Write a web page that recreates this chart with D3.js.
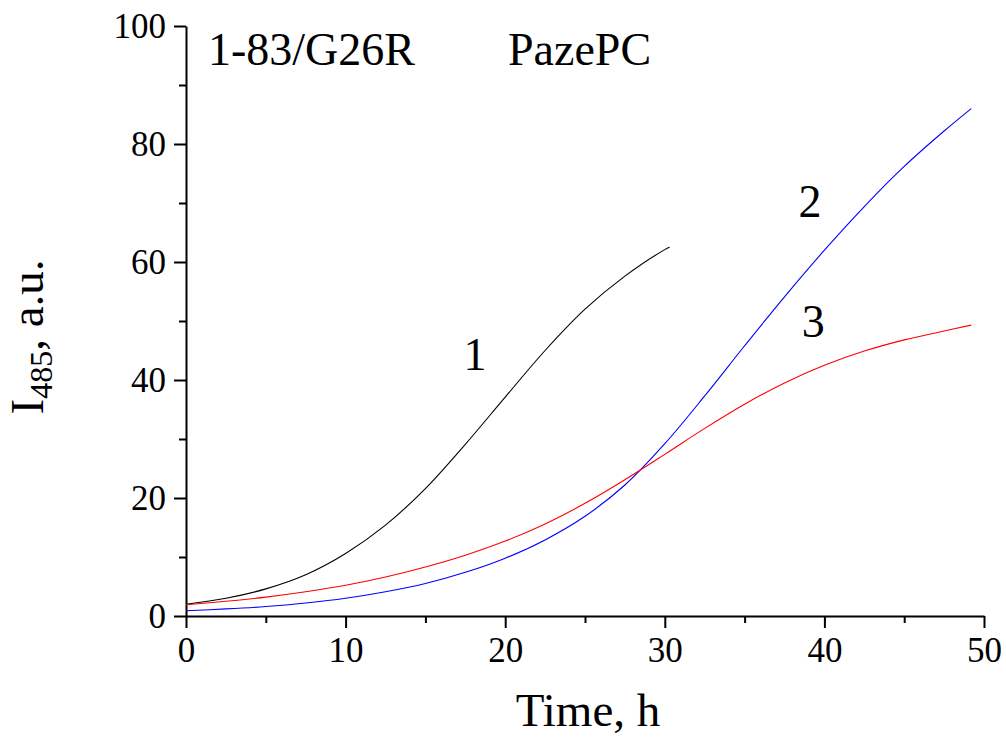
<!DOCTYPE html>
<html>
<head>
<meta charset="utf-8">
<script src="https://cdn.jsdelivr.net/npm/d3@7"></script>
<style>
  html, body { margin: 0; padding: 0; background: #fff; }
  svg { display: block; }
  text { font-family: "Liberation Serif", "Times New Roman", serif; fill: #000; }
</style>
</head>
<body>
<svg id="chart" width="1006" height="742"></svg>
<script>
// ---- data ----
const xTicks = [0, 10, 20, 30, 40, 50];
const xMinorTicks = [5, 15, 25, 35, 45];
const yTicks = [0, 20, 40, 60, 80, 100];
const yMinorTicks = [10, 30, 50, 70, 90];

const t1 = [0, 2.5, 5, 7.5, 10, 12.5, 15, 17.5, 20, 22.5, 25, 27.5, 30, 30.3];
const y1 = [2.0, 3.0, 4.6, 7.0, 10.6, 15.4, 21.6, 29.1, 37.1, 45.0, 52.0, 57.6, 62.1, 62.5];

const t2 = [0, 2.5, 5, 7.5, 10, 12.5, 15, 17.5, 20, 22.5, 25, 27.5, 30, 32.5, 35, 37.5, 40, 42.5, 45, 47.5, 49.2];
const y2 = [0.9, 1.2, 1.6, 2.2, 3.0, 4.1, 5.5, 7.4, 9.8, 12.9, 16.9, 22.2, 29.2, 37.3, 45.8, 54.1, 62.0, 69.4, 76.2, 82.2, 86.0];

const t3 = [0, 2.5, 5, 7.5, 10, 12.5, 15, 17.5, 20, 22.5, 25, 27.5, 30, 32.5, 35, 37.5, 40, 42.5, 45, 47.5, 49.2];
const y3 = [1.9, 2.5, 3.2, 4.1, 5.2, 6.6, 8.3, 10.3, 12.7, 15.6, 19.1, 23.1, 27.4, 31.8, 35.9, 39.5, 42.5, 44.9, 46.8, 48.3, 49.3];

const seriesNames = ["1", "2", "3"];
const seriesColors = ["#000000", "#0000ff", "#ff0000"];
const labelPos = [[18.1, 41.7], [39.1, 67.6], [39.3, 47.3]];  // data coords of the curve labels
const titleLeft = "1-83/G26R";
const titleRight = "PazePC";
const xTitle = "Time, h";

// ---- layout ----
const svg = d3.select("#chart");
const x = d3.scaleLinear().domain([0, 50]).range([186, 984]);
const y = d3.scaleLinear().domain([0, 100]).range([616, 26]);

function styleAxis(g) {
  g.selectAll("path.domain").attr("stroke", "#000").attr("stroke-width", 2);
  g.selectAll(".tick line").attr("stroke", "#000").attr("stroke-width", 2);
  g.selectAll(".tick text").style("font-family", '"Liberation Serif", serif').style("font-size", "35px").attr("fill", "#000");
}

const gx = svg.append("g").attr("transform", `translate(0,${y(0)})`)
  .call(d3.axisBottom(x).tickValues(xTicks).tickSize(12).tickSizeOuter(0).tickPadding(9).tickFormat(d3.format("d")));
styleAxis(gx);
const gxm = svg.append("g").attr("transform", `translate(0,${y(0)})`)
  .call(d3.axisBottom(x).tickValues(xMinorTicks).tickSize(7).tickFormat(""));
gxm.select("path.domain").remove();
gxm.selectAll(".tick line").attr("stroke", "#000").attr("stroke-width", 2);

const gy = svg.append("g").attr("transform", `translate(${x(0)},0)`)
  .call(d3.axisLeft(y).tickValues(yTicks).tickSize(12).tickSizeOuter(0).tickPadding(8).tickFormat(d3.format("d")));
styleAxis(gy);
const gym = svg.append("g").attr("transform", `translate(${x(0)},0)`)
  .call(d3.axisLeft(y).tickValues(yMinorTicks).tickSize(7).tickFormat(""));
gym.select("path.domain").remove();
gym.selectAll(".tick line").attr("stroke", "#000").attr("stroke-width", 2);

// curves
const line = d3.line().x(d => x(d[0])).y(d => y(d[1])).curve(d3.curveCatmullRom.alpha(0.5));
const series = [d3.zip(t1, y1), d3.zip(t2, y2), d3.zip(t3, y3)];
series.forEach((s, i) => {
  svg.append("path").datum(s)
    .attr("fill", "none")
    .attr("stroke", seriesColors[i])
    .attr("stroke-width", 1.1)
    .attr("d", line);
});

// curve labels
seriesNames.forEach((n, i) => {
  svg.append("text")
    .attr("x", x(labelPos[i][0]))
    .attr("y", y(labelPos[i][1]))
    .attr("text-anchor", "middle")
    .style("font-size", "46px")
    .text(n);
});

// in-plot titles
svg.append("text").attr("x", 208).attr("y", 65).style("font-size", "46px").text(titleLeft);
svg.append("text").attr("x", 508).attr("y", 65).style("font-size", "46px").text(titleRight);

// axis titles
svg.append("text")
  .attr("x", (x(0) + x(50)) / 2 + 3)
  .attr("y", 726)
  .attr("text-anchor", "middle")
  .style("font-size", "47px")
  .text(xTitle);

const yt = svg.append("text")
  .attr("transform", "translate(43,337) rotate(-90)")
  .attr("text-anchor", "middle")
  .style("font-size", "47px");
yt.append("tspan").text("I");
yt.append("tspan").attr("dy", 9).style("font-size", "32px").text("485");
yt.append("tspan").attr("dy", -9).text(", a.u.");
</script>
</body>
</html>
